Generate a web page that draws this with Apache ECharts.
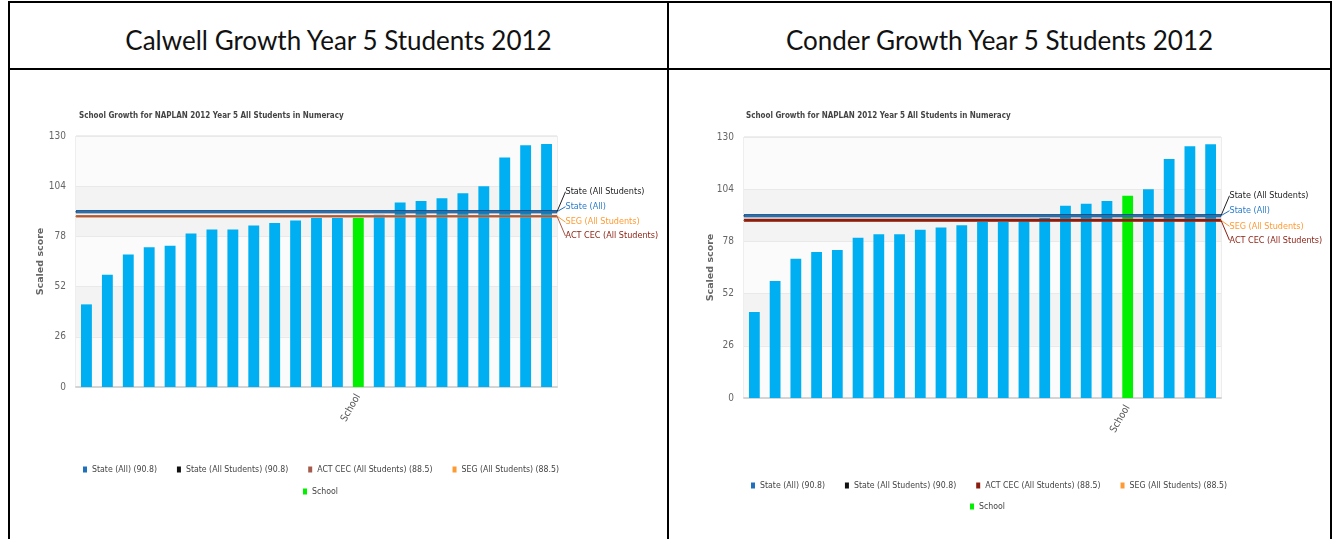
<!DOCTYPE html>
<html>
<head>
<meta charset="utf-8">
<script src="https://cdn.jsdelivr.net/npm/echarts@6/dist/echarts.min.js"></script>
<style>
html,body{margin:0;padding:0;background:#fff;width:1333px;height:539px;overflow:hidden}
.b{position:absolute;background:#000}
.hdr{position:absolute;top:14px;height:52px;line-height:52px;text-align:center;font-family:Lato,"Open Sans",sans-serif;font-size:26px;color:#111}
.chart{position:absolute;top:0;height:539px}
</style>
</head>
<body>
<div class="b" style="left:8px;top:1px;width:1324px;height:2px"></div>
<div class="b" style="left:8px;top:68px;width:1324px;height:2px"></div>
<div class="b" style="left:8px;top:1px;width:2px;height:538px"></div>
<div class="b" style="left:667px;top:1px;width:2px;height:538px"></div>
<div class="b" style="left:1330px;top:1px;width:2px;height:538px"></div>
<div class="hdr" style="left:10px;width:657px">Calwell Growth Year 5 Students 2012</div>
<div class="hdr" style="left:669px;width:661px">Conder Growth Year 5 Students 2012</div>
<div id="c1" class="chart" style="left:0;width:666px"></div>
<div id="c2" class="chart" style="left:668px;width:662px"></div>
<script>
// ---------- data ----------
const chartSubtitle = 'School Growth for NAPLAN 2012 Year 5 All Students in Numeracy';
const yAxisName = 'Scaled score';
const yTicks = [0, 26, 52, 78, 104, 130];

const calwellCategories = ['C1','C2','C3','C4','C5','C6','C7','C8','C9','C10','C11','C12','C13','School','C15','C16','C17','C18','C19','C20','C21','C22','C23'];
const calwellScores = [42.8, 58.1, 68.6, 72.4, 73.2, 79.5, 81.6, 81.6, 83.6, 85.0, 86.2, 87.5, 87.5, 87.5, 89.2, 95.5, 96.3, 97.7, 100.4, 104.0, 118.8, 125.2, 125.9];

const conderCategories = ['C1','C2','C3','C4','C5','C6','C7','C8','C9','C10','C11','C12','C13','C14','C15','C16','C17','C18','School','C20','C21','C22','C23'];
const conderScores = [42.8, 58.3, 69.3, 72.7, 73.7, 79.8, 81.5, 81.6, 83.8, 84.9, 86.1, 87.7, 87.7, 88.0, 89.7, 95.8, 96.8, 98.1, 100.7, 104.0, 119.0, 125.4, 126.4];

const referenceNames = ['State (All)', 'State (All Students)', 'ACT CEC (All Students)', 'SEG (All Students)'];
const referenceValues = [90.8, 90.8, 88.5, 88.5];
const schoolName = 'School';

// ---------- styles ----------
const NARROW = '"Liberation Sans Narrow","DejaVu Sans Condensed","Liberation Sans",sans-serif';
const refStyle = {
  'State (All Students)':   {color:'#111111', width:3,   dy:-20, text:'#222222'},
  'State (All)':            {color:'#2070bb', width:2.4, dy:-5,  text:'#2a7ccc'},
  'SEG (All Students)':     {color:'#ff9a33', width:2.5, dy:6,   text:'#ff9a33'},
  'ACT CEC (All Students)': {color:'#8e2416', width:2,   dy:20,  text:'#8e2416'}
};
const drawOrder = ['State (All Students)', 'State (All)', 'SEG (All Students)', 'ACT CEC (All Students)'];

function makeOption(categories, scores, L) {
  const schoolIdx = categories.indexOf(schoolName);
  const series = [
    {
      name: 'Schools', type: 'bar', xAxisIndex: 0, yAxisIndex: 0,
      data: scores.map((v, i) => i === schoolIdx ? '-' : v),
      barWidth: '52%', barGap: '-100%',
      itemStyle: {color: '#00aff2'}
    },
    {
      name: schoolName, type: 'bar', xAxisIndex: 0, yAxisIndex: 0,
      data: scores.map((v, i) => i === schoolIdx ? v : '-'),
      barWidth: '52%', barGap: '-100%',
      itemStyle: {color: '#00f000'}
    }
  ];
  drawOrder.forEach(name => {
    const v = referenceValues[referenceNames.indexOf(name)];
    const s = refStyle[name];
    const isAct = name === 'ACT CEC (All Students)';
    const col = (isAct && L.actColor) ? L.actColor : s.color;
    series.push({
      name: name, type: 'line', xAxisIndex: 1, yAxisIndex: 0,
      data: [[0, v], {value: [1, v], label: {show: true}}],
      symbol: 'circle', symbolSize: 1, showSymbol: true,
      lineStyle: {color: col, width: (isAct && L.actWidth) ? L.actWidth : s.width},
      itemStyle: {color: col},
      label: {show: false, position: 'right', distance: 5, formatter: name,
              color: s.text, fontFamily: NARROW, fontSize: 9},
      labelLayout: {dx: 3, dy: s.dy},
      labelLine: {show: true, smooth: false, lineStyle: {color: s.color === '#111111' ? '#222' : col, width: 1}},
      z: 5, silent: true
    });
  });

  const legendFormatter = name => {
    const k = referenceNames.indexOf(name);
    return k >= 0 ? name + ' (' + referenceValues[k] + ')' : name;
  };
  const legendText = {color: '#444', fontFamily: NARROW, fontSize: 8.7};

  return {
    animation: false,
    textStyle: {fontFamily: NARROW},
    title: {
      text: chartSubtitle, left: L.subLeft, top: L.subTop,
      textStyle: {fontFamily: NARROW, fontWeight: 'bold', fontSize: 8, color: '#444'}
    },
    grid: {left: L.left, top: L.top, width: L.width, height: L.height,
           show: true, borderColor: '#dcdcdc', borderWidth: 1, backgroundColor: 'transparent'},
    xAxis: [
      {
        type: 'category', data: categories, gridIndex: 0,
        axisTick: {show: false},
        axisLine: {lineStyle: {color: '#d4d4d4', width: 2}},
        axisLabel: {interval: 0, rotate: 60, margin: 8, color: '#555', fontSize: 10, fontFamily: NARROW,
                    formatter: v => v === schoolName ? v : ''}
      },
      {type: 'value', gridIndex: 0, min: 0, max: 1, show: false}
    ],
    yAxis: {
      type: 'value', min: yTicks[0], max: yTicks[yTicks.length - 1], interval: yTicks[1] - yTicks[0],
      name: yAxisName, nameLocation: 'middle', nameRotate: 90, nameGap: L.nameGap,
      nameMoveOverlap: false,
      nameTextStyle: {fontFamily: '"DejaVu Sans",sans-serif', fontWeight: 'bold', fontSize: 9.5, color: '#666'},
      axisLine: {show: false}, axisTick: {show: false},
      axisLabel: {color: '#666', fontSize: 10, fontFamily: NARROW, margin: 10},
      splitLine: {lineStyle: {color: '#e9e9e9'}},
      splitArea: {show: true, areaStyle: {color: ['#fbfbfb', '#f3f3f3']}}
    },
    legend: [
      {
        data: referenceNames, left: L.legLeft, top: L.legTop, orient: 'horizontal',
        icon: 'rect', itemWidth: 4, itemHeight: 6, itemGap: 20, selectedMode: false,
        formatter: legendFormatter, textStyle: legendText
      },
      {
        data: [schoolName], left: L.schoolLeft, top: L.schoolTop,
        icon: 'rect', itemWidth: 4, itemHeight: 6, selectedMode: false,
        textStyle: legendText
      }
    ],
    series: series
  };
}

const c1 = echarts.init(document.getElementById('c1'), null, {renderer: 'canvas'});
c1.setOption(makeOption(calwellCategories, calwellScores, {
  left: 76, top: 136, width: 481, height: 251, subLeft: 74, subTop: 107, nameGap: 30,
  legLeft: 78, legTop: 460, schoolLeft: 298, schoolTop: 482, actColor: '#a65a4c', actWidth: 2
}));
const c2 = echarts.init(document.getElementById('c2'), null, {renderer: 'canvas'});
c2.setOption(makeOption(conderCategories, conderScores, {
  left: 76, top: 137, width: 477, height: 261, subLeft: 73, subTop: 107, nameGap: 28,
  legLeft: 78, legTop: 476, schoolLeft: 297, schoolTop: 497, actColor: '#8a1c10', actWidth: 3
}));
</script>
</body>
</html>
